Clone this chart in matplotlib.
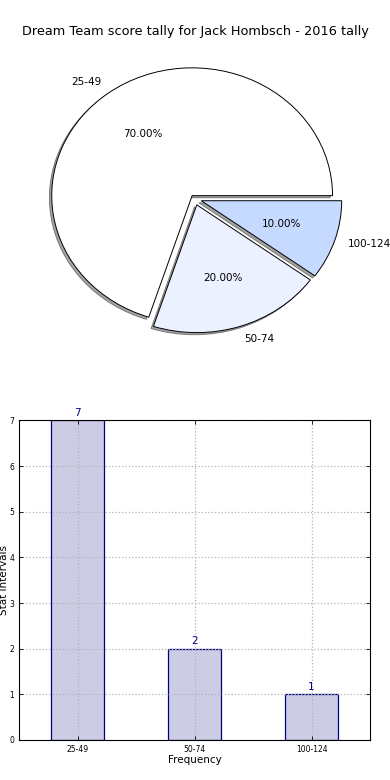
import matplotlib
matplotlib.use("Agg")
import matplotlib.pyplot as plt

# data
intervals = ["25-49", "50-74", "100-124"]
counts = [7, 2, 1]
explode = [0.03, 0.05, 0.05]
pie_colors = ["#ffffff", "#ebf1ff", "#c6d9ff"]
title = "Dream Team score tally for Jack Hombsch - 2016 tally"

plt.rcParams["xtick.direction"] = "in"
plt.rcParams["ytick.direction"] = "in"
plt.rcParams["xtick.top"] = True
plt.rcParams["ytick.right"] = True

fig, (ax1, ax2) = plt.subplots(2, 1, figsize=(3.9, 7.8), dpi=100)
fig.subplots_adjust(left=0.049, right=0.949, top=0.95, bottom=0.0513, hspace=0.194)

# pie, stretched like the old non-equal-aspect matplotlib pies
ax1.pie(counts, labels=intervals, explode=explode, colors=pie_colors,
        autopct="%.2f%%",
        shadow={"ox": -0.012, "oy": -0.012, "facecolor": "0.55",
                "edgecolor": "0.35", "alpha": 0.8, "linewidth": 0.6},
        wedgeprops={"edgecolor": "black", "linewidth": 0.7},
        textprops={"fontsize": 7.5})
ax1.set_aspect("auto")
ax1.set_xlim(-1.25, 1.25)
ax1.set_ylim(-1.25, 1.25)
fig.suptitle(title, fontsize=9.3, y=0.968)

# bar chart
x = range(len(intervals))
ax2.bar(x, counts, width=0.45, color="navy", alpha=0.2, zorder=1)
ax2.bar(x, counts, width=0.45, facecolor="none", edgecolor="navy",
        linewidth=0.9, zorder=1.5)
for xi, c in zip(x, counts):
    ax2.text(xi, c + 0.05, str(c), ha="center", va="bottom",
             fontsize=7.5, color="navy")
ax2.set_xticks(list(x))
ax2.set_xticklabels(intervals)
ax2.set_xlim(-0.5, 2.5)
ax2.set_ylim(0, 7)
ax2.set_yticks(range(8))
ax2.tick_params(labelsize=5.5, length=3, width=0.6)
ax2.grid(True, linestyle=":", color="0.7", linewidth=0.9)
for gl in ax2.get_xgridlines() + ax2.get_ygridlines():
    gl.set_zorder(2)
for sp in ax2.spines.values():
    sp.set_zorder(3)
ax2.set_xlabel("Frequency", fontsize=7.5, labelpad=1)
ax2.set_ylabel("Stat Intervals", fontsize=7.5, labelpad=0)

fig.savefig("out.png", dpi=100)
